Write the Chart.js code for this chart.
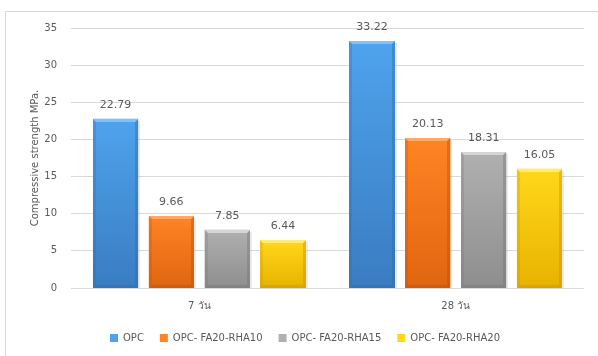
<!DOCTYPE html>
<html>
<head>
<meta charset="utf-8">
<script src="https://cdn.jsdelivr.net/npm/chart.js@4.4.1/dist/chart.umd.min.js"></script>
<style>
  html, body { margin: 0; padding: 0; background: #fff; }
  #wrap { position: relative; width: 598px; height: 356px; overflow: hidden; }
  #frame { position: absolute; left: 5px; top: 11px; width: 620px; height: 380px; border: 1px solid #d9d9d9; box-sizing: border-box; }
  #c { position: absolute; left: 0; top: 0; }
</style>
</head>
<body>
<div id="wrap">
  <div id="frame"></div>
  <canvas id="c" width="598" height="356"></canvas>
</div>
<script>
// Compressive strength at 7 and 28 days
const categories = ['7 วัน', '28 วัน'];
const seriesNames = ['OPC', 'OPC- FA20-RHA10', 'OPC- FA20-RHA15', 'OPC- FA20-RHA20'];
const opc        = [22.79, 33.22];
const rha10      = [9.66, 20.13];
const rha15      = [7.85, 18.31];
const rha20      = [6.44, 16.05];
const yTicks     = [0, 5, 10, 15, 20, 25, 30, 35];

// bar shades: [top, bottom, highlight, edge]
const shades = [
  ['#4ea3ec', '#3a7cc2', '#8cc8f8', '#2f69a8'],
  ['#ff8424', '#e06510', '#ffb070', '#b4500a'],
  ['#b0b0b0', '#8e8e8e', '#dcdcdc', '#727272'],
  ['#ffd81a', '#e8b200', '#fff08a', '#c49400']
];

const FONT = "'DejaVu Sans', 'Noto Sans', sans-serif";
const TEXT = '#595959';

// Bevelled bar look drawn over each bar element
const bevelBars = {
  id: 'bevelBars',
  afterDatasetDraw(chart, args) {
    const ctx = chart.ctx;
    const i = args.index;
    const s = shades[i];
    const meta = chart.getDatasetMeta(i);
    meta.data.forEach((bar, j) => {
      const p = bar.getProps(['x', 'y', 'base', 'width'], true);
      const L = Math.round(p.x - p.width / 2), R = Math.round(p.x + p.width / 2);
      const T = Math.round(p.y), B = Math.round(p.base);
      ctx.save();
      // soft shadow
      ctx.fillStyle = 'rgba(0,0,0,0.08)';
      ctx.fillRect(R, T + 2, 2, B - T - 2);
      // body
      const g = ctx.createLinearGradient(0, T, 0, B);
      g.addColorStop(0, s[0]);
      g.addColorStop(1, s[1]);
      ctx.fillStyle = g;
      ctx.fillRect(L, T, R - L, B - T);
      const bw = 3;
      // right edge
      ctx.fillStyle = s[3];
      ctx.globalAlpha = 0.4;
      ctx.beginPath();
      ctx.moveTo(R, T); ctx.lineTo(R, B); ctx.lineTo(R - bw, B - bw); ctx.lineTo(R - bw, T + bw); ctx.closePath();
      ctx.fill();
      // bottom edge
      ctx.beginPath();
      ctx.moveTo(L, B); ctx.lineTo(R, B); ctx.lineTo(R - bw, B - bw); ctx.lineTo(L + bw, B - bw); ctx.closePath();
      ctx.fill();
      // left edge
      ctx.globalAlpha = 0.25;
      ctx.beginPath();
      ctx.moveTo(L, T); ctx.lineTo(L, B); ctx.lineTo(L + bw, B - bw); ctx.lineTo(L + bw, T + bw); ctx.closePath();
      ctx.fill();
      // top highlight
      ctx.globalAlpha = 0.85;
      ctx.fillStyle = s[2];
      ctx.beginPath();
      ctx.moveTo(L, T); ctx.lineTo(R, T); ctx.lineTo(R - bw, T + bw); ctx.lineTo(L + bw, T + bw); ctx.closePath();
      ctx.fill();
      ctx.restore();

      // value label
      ctx.save();
      ctx.font = '11px ' + FONT;
      ctx.fillStyle = TEXT;
      ctx.textAlign = 'center';
      ctx.textBaseline = 'middle';
      const v = chart.data.datasets[i].data[j];
      ctx.fillText(v.toFixed(2), p.x, T - 14);
      ctx.restore();
    });
  }
};

const seriesData = [opc, rha10, rha15, rha20];

new Chart(document.getElementById('c'), {
  type: 'bar',
  data: {
    labels: categories,
    datasets: seriesNames.map((name, i) => ({
      label: name,
      data: seriesData[i],
      backgroundColor: shades[i][0],
      borderWidth: 0,
      categoryPercentage: 0.87,
      barPercentage: 0.81
    }))
  },
  options: {
    responsive: false,
    animation: false,
    devicePixelRatio: 1,
    layout: { padding: { top: 28, right: 14, left: 26, bottom: 3 } },
    scales: {
      x: {
        grid: { display: false, drawTicks: false },
        border: { display: false },
        afterFit(axis) { axis.height -= 7; },
        ticks: { color: TEXT, font: { family: FONT, size: 10 }, padding: 12 }
      },
      y: {
        min: 0, max: 35,
        afterBuildTicks(axis) { axis.ticks = yTicks.map(v => ({ value: v })); },
        afterFit(axis) { axis.width = 45; },
        grid: { color: '#d9d9d9', drawTicks: false },
        border: { display: false },
        ticks: { color: TEXT, font: { family: FONT, size: 10 }, padding: 14 },
        title: {
          display: true,
          text: 'Compressive strength MPa.',
          color: TEXT,
          font: { family: FONT, size: 10 },
          padding: { top: 3, bottom: 0 }
        }
      }
    },
    plugins: {
      tooltip: { enabled: false },
      legend: {
        position: 'bottom',
        labels: {
          color: TEXT,
          font: { family: FONT, size: 10 },
          boxWidth: 8,
          boxHeight: 8,
          padding: 16
        }
      }
    }
  },
  plugins: [bevelBars]
});
</script>
</body>
</html>
